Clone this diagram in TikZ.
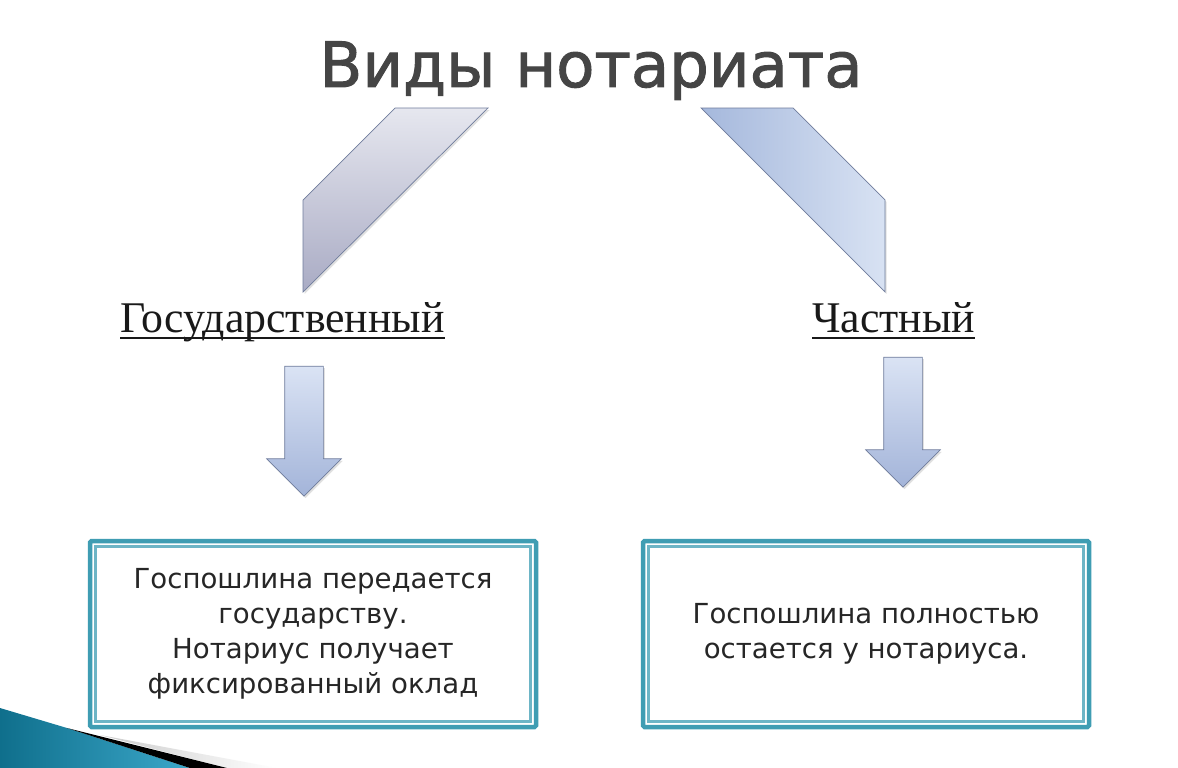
\documentclass[tikz,border=0pt]{standalone}
\usepackage{fontspec}
\setmainfont{DejaVu Sans}
\newfontfamily\labelfont{Liberation Serif}
\newfontfamily\titlefont[FakeBold=1.5]{DejaVu Sans}
\usetikzlibrary{positioning,shapes.arrows,shadows}
\definecolor{titlegray}{HTML}{454545}
\definecolor{boxteal}{HTML}{3F9DB3}
\definecolor{boxtealin}{HTML}{6DB5C6}
\definecolor{edgeblue}{HTML}{6F7C9C}
\definecolor{arrowtop}{HTML}{DAE3F4}
\definecolor{arrowlow}{HTML}{A3B4D9}
\definecolor{slanttop}{HTML}{E6E7EF}
\definecolor{slantlow}{HTML}{A9ABC4}
\definecolor{slantleft}{HTML}{A5B8DC}
\definecolor{slantright}{HTML}{D8E2F3}
\definecolor{cornerdark}{HTML}{0F6F8C}
\definecolor{cornerlight}{HTML}{3BA7C9}
\newcommand\kindline[1]{\setbox0=\hbox{#1}\copy0\llap{\rule[-7.3pt]{\wd0}{2.6pt}}}

\begin{document}
\begin{tikzpicture}[x=1pt, y=-1pt,
  title/.style = {font=\titlefont\fontsize{62.5}{70}\selectfont, text=titlegray, inner sep=0, anchor=base},
  kind/.style = {font=\labelfont\fontsize{43.8}{50}\selectfont, text=black!90, inner sep=0, anchor=base},
  infobox/.style = {draw=boxteal, line width=4.5pt, rounded corners=1.5pt, fill=white,
    minimum width=446pt, minimum height=186pt, inner sep=0, align=center,
    font=\fontsize{27.6}{35}\selectfont, text=black!85},
  boxinner/.style = {draw=boxtealin, line width=2.2pt},
  softshadow/.style = {drop shadow={shadow xshift=1.5pt, shadow yshift=-2pt, opacity=.12, fill=black}},
  slant/.style = {draw=edgeblue, line width=.7pt, softshadow},
  downarr/.style = {single arrow, shape border rotate=270, draw=edgeblue, line width=.7pt,
    minimum height=130pt, minimum width=74pt, inner sep=19pt,
    single arrow head extend=18pt, single arrow tip angle=90,
    top color=arrowtop, bottom color=arrowlow, softshadow}
  ]
  \useasboundingbox (0,0) rectangle (1178,768);
  \fill[white] (0,0) rectangle (1178,768);

  % corner
  \shade[left color=black!20, right color=white] (100,735) -- (277,768) -- (227,768) -- cycle;
  \shade[left color=cornerdark, right color=cornerlight]
    (0,708) -- (67,728) -- (190,768) -- (0,768) -- cycle;
  \fill[black] (67,728) -- (227,768) -- (190,768) -- cycle;

  \node (title) [title] at (591,87) {Виды нотариата};
  \node (gov) [kind] at (282.5,332) {\kindline{Государственный}};
  \node (priv) [kind] at (893.5,332) {\kindline{Частный}};

  % slanted bars
  \draw[slant, top color=slanttop, bottom color=slantlow]
    (395,108) -- (488,108) -- (303,292) -- (303,200) -- cycle;
  \draw[slant, left color=slantleft, right color=slantright]
    (701,108) -- (793,108) -- (885,200) -- (885,292) -- cycle;

  \node (arrgov) [downarr] at (304,421.5) {};
  \node (arrpriv) [downarr] at (903,412.5) {};

  \node (boxgov) [infobox] at (313,634) {Госпошлина передается\\государству.\\Нотариус получает\\фиксированный оклад};
  \node (boxpriv) [infobox] at (866,634) {Госпошлина полностью\\остается у нотариуса.};
  \draw[boxinner] (95.5,546.5) rectangle (530.5,721.5);
  \draw[boxinner] (648.5,546.5) rectangle (1083.5,721.5);
\end{tikzpicture}
\end{document}
